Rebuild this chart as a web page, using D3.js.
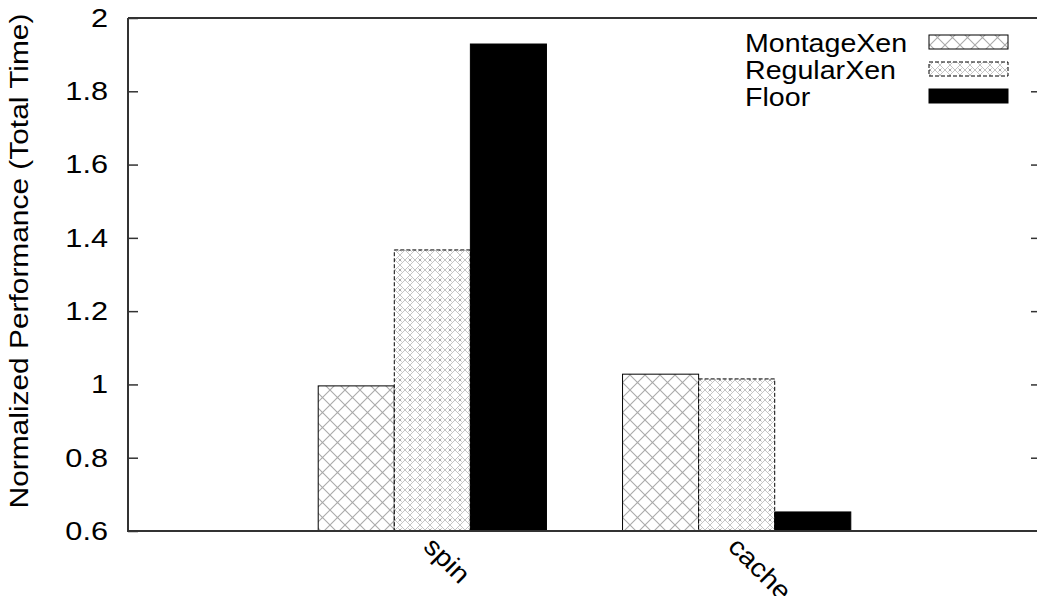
<!DOCTYPE html>
<html><head><meta charset="utf-8">
<script src="https://cdn.jsdelivr.net/npm/d3@7"></script>
<style>body{margin:0;background:#fff}svg{display:block}text{font-family:"Liberation Sans",Arial,sans-serif;fill:#000}</style>
</head><body>
<svg id="c" width="1037" height="596"></svg>
<script>
const categories = ["spin", "cache"];
const seriesNames = ["MontageXen", "RegularXen", "Floor"];
const montageXen = [0.996, 1.028];
const regularXen = [1.367, 1.015];
const floorVals = [1.929, 0.652];
const yTicks = [0.6, 0.8, 1, 1.2, 1.4, 1.6, 1.8, 2];
const yLabel = "Normalized Performance (Total Time)";

const series = [montageXen, regularXen, floorVals];
const svg = d3.select("#c");
const L = 128, R = 1041, T = 18, B = 531;
const x = d3.scaleLinear().domain([-1, 2]).range([L, R]);
const y = d3.scaleLinear().domain([0.6, 2]).range([B, T]);
const barW = 0.25;
const offsets = [-0.25, 0, 0.25];
const stretch = 1.18;

const defs = svg.append("defs");
// MontageXen: crosshatch
const p1 = defs.append("pattern").attr("id", "pMont").attr("patternUnits", "userSpaceOnUse")
  .attr("width", 15).attr("height", 15);
p1.append("rect").attr("width", 15).attr("height", 15).attr("fill", "#fff");
p1.append("path").attr("d", "M0,0L15,15M15,0L0,15").attr("stroke", "#aaa").attr("stroke-width", 1.1);
// RegularXen: dense circles/crosses
const p2 = defs.append("pattern").attr("id", "pReg").attr("patternUnits", "userSpaceOnUse")
  .attr("width", 10).attr("height", 10);
p2.append("rect").attr("width", 10).attr("height", 10).attr("fill", "#fff");
p2.append("path").attr("d", "M0,5L5,0L10,5L5,10Z").attr("fill", "none").attr("stroke", "#c4c4c4").attr("stroke-width", 1);
p2.append("path").attr("d", "M-1.5,-1.5L1.5,1.5M1.5,-1.5L-1.5,1.5M8.5,8.5L11.5,11.5M11.5,8.5L8.5,11.5M8.5,-1.5L11.5,1.5M11.5,-1.5L8.5,1.5M-1.5,8.5L1.5,11.5M1.5,8.5L-1.5,11.5").attr("stroke", "#aaa").attr("stroke-width", 1);

const fills = ["url(#pMont)", "url(#pReg)", "#000"];
const dashes = [null, "4,2", null];

// bars
series.forEach((vals, si) => {
  svg.append("g").selectAll("rect").data(vals).join("rect")
    .attr("x", (d, i) => x(i + offsets[si] - barW / 2))
    .attr("width", x(barW) - x(0))
    .attr("y", d => y(d))
    .attr("height", d => y(0.6) - y(d))
    .attr("fill", fills[si])
    .attr("stroke", "#000").attr("stroke-width", 1)
    .attr("stroke-dasharray", dashes[si]);
});

// frame
const axisCol = "#333";
svg.append("path").attr("d", `M${L},${T}H${R}M${L},${T}V${B}H${R}`).attr("fill", "none")
  .attr("stroke", axisCol).attr("stroke-width", 2);

// y axis
const yAxis = d3.axisLeft(y).tickValues(yTicks).tickFormat(d3.format("")).tickSize(-10).tickPadding(20);
const gy = svg.append("g").attr("transform", `translate(${L},0)`).call(yAxis);
gy.select(".domain").remove();
gy.selectAll(".tick line").attr("stroke", axisCol).attr("stroke-width", 1.5);
gy.selectAll(".tick text").attr("font-size", 26).attr("font-family", "Liberation Sans, Arial, sans-serif")
  .attr("x", -20 / stretch).attr("transform", `scale(${stretch},1)`);
// mirror ticks
const yAxisR = d3.axisRight(y).tickValues(yTicks.slice(1, -1)).tickSize(-10).tickFormat("");
const gyr = svg.append("g").attr("transform", `translate(${R},0)`).call(yAxisR);
gyr.select(".domain").remove();
gyr.selectAll(".tick line").attr("stroke", axisCol).attr("stroke-width", 1.5);

// x labels
svg.append("g").selectAll("text").data(categories).join("text")
  .attr("transform", (d, i) => `translate(${x(i) - 10},${548}) rotate(45) scale(1.1,1)`)
  .attr("font-size", 26).text(d => d);

// y label
svg.append("text").attr("transform", `translate(28,261) rotate(-90) scale(1.15,1)`)
  .attr("text-anchor", "middle").attr("font-size", 26).text(yLabel);

// legend
const lg = svg.append("g");
seriesNames.forEach((n, i) => {
  const cy = 42 + i * 27;
  lg.append("text").attr("transform", `translate(745,${cy + 10}) scale(1.1,1)`)
    .attr("font-size", 26).text(n);
  lg.append("rect").attr("x", 929).attr("y", cy - 7).attr("width", 79).attr("height", 14)
    .attr("fill", fills[i]).attr("stroke", "#000").attr("stroke-width", 1)
    .attr("stroke-dasharray", dashes[i]);
});
</script>
</body></html>
